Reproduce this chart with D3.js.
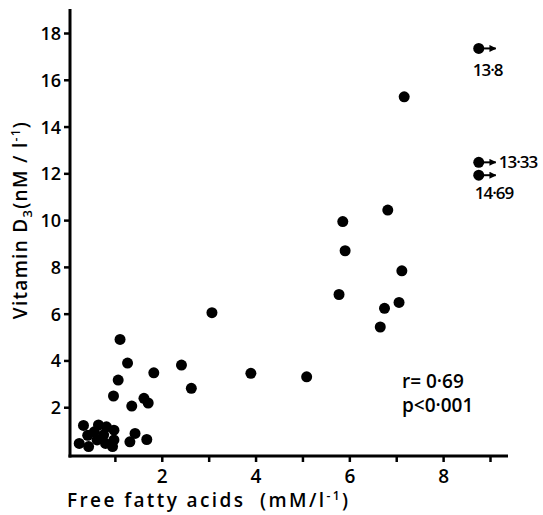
<!DOCTYPE html>
<html>
<head>
<meta charset="utf-8">
<style>
  body { margin: 0; background: #fff; }
  text { font-family: "Open Sans", sans-serif; font-weight: 600; fill: #000; }
</style>
</head>
<body>
<script src="https://d3js.org/d3.v7.min.js"></script>
<script>
  // free fatty acids (mM/l) and vitamin D3 (nM/l)
  const ffa = [0.33, 0.24, 0.44, 0.42, 0.65, 0.56, 0.62, 0.76, 0.82, 0.98, 0.98, 0.95, 0.80,
               1.43, 1.32, 1.68, 0.97, 1.07, 1.11, 1.27, 1.36, 1.62, 1.71, 1.83, 2.42, 2.63,
               3.07, 3.90, 5.09, 5.86, 5.91, 5.78, 6.66, 6.75, 6.82, 7.06, 7.12, 7.17];
  const vitD = [1.22, 0.45, 0.32, 0.80, 1.24, 0.95, 0.60, 0.82, 1.16, 1.02, 0.60, 0.32, 0.45,
                0.88, 0.52, 0.62, 2.48, 3.16, 4.90, 3.89, 2.05, 2.38, 2.18, 3.47, 3.80, 2.81,
                6.04, 3.45, 3.30, 9.94, 8.69, 6.82, 5.43, 6.23, 10.43, 6.48, 7.83, 15.27];

  // points whose FFA value lies off the axis: shown at the edge with an arrow
  const offVitD = [17.34, 12.47, 11.92];
  const offLabels = ['13·8', '13·33', '14·69'];
  const offX = 8.76;

  const yTicks = [2, 4, 6, 8, 10, 12, 14, 16, 18];
  const xTicks = [1, 2, 3, 4, 5, 6, 7, 8, 9];
  const xTickLabels = ['', '2', '', '4', '', '6', '', '8', ''];

  const width = 543, height = 515;
  const svg = d3.select('body').append('svg')
    .attr('width', width)
    .attr('height', height);

  const xScale = d3.scaleLinear().domain([0, 9]).range([68, 490]);
  const yScale = d3.scaleLinear().domain([0, 18]).range([454, 33]);

  const axisX = 70, axisY = 456;

  // y axis
  const yAxis = d3.axisLeft(yScale)
    .tickValues(yTicks)
    .tickSize(6)
    .tickPadding(3);
  const gy = svg.append('g')
    .attr('transform', `translate(${axisX},0)`)
    .call(yAxis);
  gy.select('.domain').remove();
  gy.selectAll('.tick line').attr('stroke', '#000').attr('stroke-width', 2.5);
  gy.selectAll('.tick text').attr('font-size', 18).attr('dy', '0.36em');
  gy.append('line')
    .attr('x1', 0).attr('x2', 0)
    .attr('y1', 9).attr('y2', axisY + 1.5)
    .attr('stroke', '#000').attr('stroke-width', 3);

  // x axis
  const xAxis = d3.axisBottom(xScale)
    .tickValues(xTicks)
    .tickFormat((d, i) => xTickLabels[i])
    .tickSize(6)
    .tickPadding(8);
  const gx = svg.append('g')
    .attr('transform', `translate(0,${axisY})`)
    .call(xAxis);
  gx.select('.domain').remove();
  gx.selectAll('.tick line').attr('stroke', '#000').attr('stroke-width', 2.5);
  gx.selectAll('.tick text').attr('font-size', 19);
  gx.append('line')
    .attr('x1', axisX - 1.5).attr('x2', 508)
    .attr('y1', 0).attr('y2', 0)
    .attr('stroke', '#000').attr('stroke-width', 3);

  // axis titles
  svg.append('text')
    .attr('x', 67).attr('y', 507)
    .attr('font-size', 19)
    .attr('letter-spacing', 2.4)
    .html('Free fatty acids&#160;&#160;(mM/l<tspan dy="-7" font-size="12">-1</tspan><tspan dy="7">)</tspan>');

  const yTitle = svg.append('text')
    .attr('transform', 'translate(27,220) rotate(-90)')
    .attr('text-anchor', 'middle')
    .attr('letter-spacing', 1.3)
    .attr('font-size', 19);
  yTitle.append('tspan').text('Vitamin D');
  yTitle.append('tspan').attr('dy', 5).attr('font-size', 13).text('3');
  yTitle.append('tspan').attr('dy', -5).text('(nM / l');
  yTitle.append('tspan').attr('dy', -7).attr('font-size', 12).text('-1');
  yTitle.append('tspan').attr('dy', 7).text(')');

  // points
  const pts = d3.zip(ffa, vitD);
  svg.append('g')
    .selectAll('circle')
    .data(pts)
    .join('circle')
    .attr('cx', d => xScale(d[0]))
    .attr('cy', d => yScale(d[1]))
    .attr('r', 5.5)
    .attr('fill', '#000');

  // off-scale points with arrows
  svg.append('defs').append('marker')
    .attr('id', 'head')
    .attr('viewBox', '0 0 10 10')
    .attr('refX', 9).attr('refY', 5)
    .attr('markerWidth', 3.5).attr('markerHeight', 3.5)
    .attr('orient', 'auto')
    .append('path')
    .attr('d', 'M0,0L10,5L0,10Z')
    .attr('fill', '#000');

  const off = svg.append('g');
  off.selectAll('circle')
    .data(offVitD)
    .join('circle')
    .attr('cx', xScale(offX))
    .attr('cy', d => yScale(d))
    .attr('r', 5.5)
    .attr('fill', '#000');
  off.selectAll('line')
    .data(offVitD)
    .join('line')
    .attr('x1', xScale(offX))
    .attr('x2', xScale(offX) + 17)
    .attr('y1', d => yScale(d))
    .attr('y2', d => yScale(d))
    .attr('stroke', '#000')
    .attr('stroke-width', 2)
    .attr('marker-end', 'url(#head)');

  const labelPos = [[-6, 28], [20, 6], [-4, 24]];
  off.selectAll('text')
    .data(offVitD)
    .join('text')
    .attr('x', (d, i) => xScale(offX) + labelPos[i][0])
    .attr('y', (d, i) => yScale(d) + labelPos[i][1])
    .attr('font-size', 17)
    .attr('letter-spacing', -1)
    .text((d, i) => offLabels[i]);

  // correlation
  svg.append('text').attr('x', 402).attr('y', 388).attr('font-size', 19).text('r= 0·69');
  svg.append('text').attr('x', 402).attr('y', 412).attr('font-size', 19).text('p<0·001');
</script>
</body>
</html>
